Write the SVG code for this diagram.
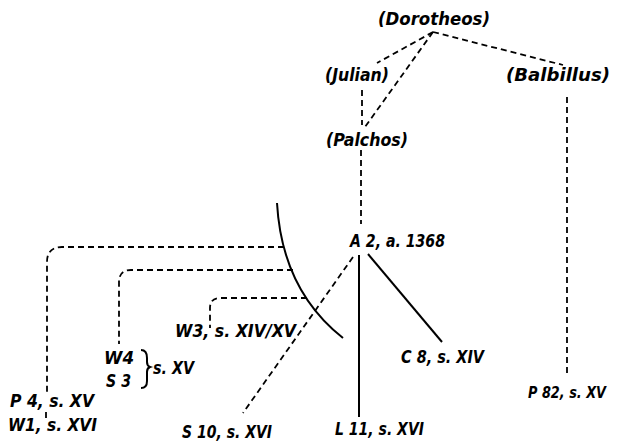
<svg xmlns="http://www.w3.org/2000/svg" width="617" height="446" viewBox="0 0 617 446">
<style>
text{font-family:"DejaVu Sans Condensed","DejaVu Sans",sans-serif;font-style:italic;font-weight:bold;font-size:18px;fill:#000}
.d{fill:none;stroke:#000;stroke-width:1.8;stroke-dasharray:6 4}
.s{fill:none;stroke:#000;stroke-width:2}
</style>
<rect width="617" height="446" fill="#fff"/>
<g id="connectors">
<path class="d" d="M433,32 L377,63"/>
<path class="d" d="M433,32 L365,127"/>
<path class="d" d="M433,32 L563,65"/>
<path class="d" d="M362,90 L362,125"/>
<path class="d" d="M567,97 L567,374"/>
<path class="d" d="M361,150 L361,224"/>
<path class="s" d="M359,255 L359,417"/>
<path class="s" d="M368,254 L442,342"/>
<path class="d" d="M353,257 L243,413"/>
<path class="s" d="M277,203 Q282,290 343,338"/>
<path class="d" d="M284,247 L62,247 Q47,247 47,262 L47,392"/>
<path class="d" d="M46,412 L46,420"/>
<path class="d" d="M293,270 L131,270 Q119,270 119,282 L119,344"/>
<path class="d" d="M307,298 L220,298 Q210,298 210,308 L210,328"/>
<path class="s" d="M141,350 Q147,350 147,358 L147,362 Q147,366 150,367 Q147,368 147,372 L147,381 Q147,388 141,388"/>
</g>
<g id="dorotheos"><text x="378" y="25" textLength="112" lengthAdjust="spacingAndGlyphs">(Dorotheos)</text></g>
<g id="julian"><text x="325" y="81" textLength="64" lengthAdjust="spacingAndGlyphs">(Julian)</text></g>
<g id="balbillus"><text x="610" y="81" text-anchor="end" textLength="104" lengthAdjust="spacingAndGlyphs">(Balbillus)</text></g>
<g id="palchos"><text x="326" y="146" textLength="82" lengthAdjust="spacingAndGlyphs">(Palchos)</text></g>
<g id="a2"><text x="350" y="247" textLength="95" lengthAdjust="spacingAndGlyphs">A 2, a. 1368</text></g>
<g id="w3"><text x="175" y="337" textLength="121" lengthAdjust="spacingAndGlyphs">W3, s. XIV/XV</text></g>
<g id="w4s3">
<text x="104" y="364" textLength="30" lengthAdjust="spacingAndGlyphs">W4</text>
<text x="106" y="387" textLength="25" lengthAdjust="spacingAndGlyphs">S 3</text>
<text x="153" y="374" textLength="41" lengthAdjust="spacingAndGlyphs">s. XV</text>
</g>
<g id="c8"><text x="401" y="363" textLength="83" lengthAdjust="spacingAndGlyphs">C 8, s. XIV</text></g>
<g id="p4"><text x="10" y="407" textLength="84" lengthAdjust="spacingAndGlyphs">P 4, s. XV</text></g>
<g id="w1"><text x="8" y="431" textLength="89" lengthAdjust="spacingAndGlyphs">W1, s. XVI</text></g>
<g id="s10"><text x="182" y="438" textLength="90" lengthAdjust="spacingAndGlyphs">S 10, s. XVI</text></g>
<g id="l11"><text x="335" y="435" textLength="89" lengthAdjust="spacingAndGlyphs">L 11, s. XVI</text></g>
<g id="p82"><text x="606" y="398" text-anchor="end" style="font-size:16px" textLength="78" lengthAdjust="spacingAndGlyphs">P 82, s. XV</text></g>
</svg>
